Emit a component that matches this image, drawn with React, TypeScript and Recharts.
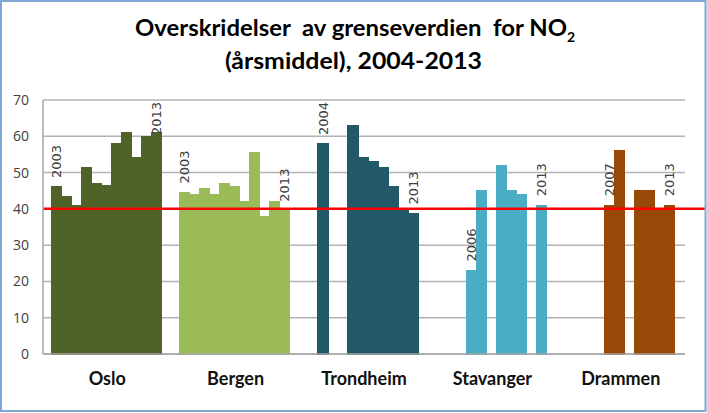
import React from 'react';
import { BarChart, Bar, XAxis, YAxis, CartesianGrid, ReferenceLine, Cell, LabelList } from 'recharts';

const cities = ['Oslo', 'Bergen', 'Trondheim', 'Stavanger', 'Drammen'];
const years = [2003, 2004, 2005, 2006, 2007, 2008, 2009, 2010, 2011, 2012, 2013];

const oslo = [46, 43.5, 41, 51.5, 47, 46.5, 58, 61, 54, 60, 61];
const bergen = [44.5, 44, 45.5, 44, 47, 46, 42, 55.5, 38, 42, 39.5];
const trondheim = [null, 58, null, null, 63, 54, 53, 51.5, 46, 40, 38.7];
const stavanger = [null, null, null, 23, 45, null, 52, 45, 44, null, 41];
const drammen = [null, null, null, null, 41, 56, null, 45, 45, 39.5, 41];

const cityValues = [oslo, bergen, trondheim, stavanger, drammen];
const cityColors = ['#4F6228', '#9BBB59', '#215968', '#4BACC6', '#984807'];

const labelYears = [
  [2003, 2013],
  [2003, 2013],
  [2004, 2013],
  [2006, 2013],
  [2007, 2013],
];

const yTicks = [0, 10, 20, 30, 40, 50, 60, 70];
const limitValue = 40;

const titleLine1 = 'Overskridelser  av grenseverdien  for NO';
const titleSub = '2';
const titleLine2 = '(årsmiddel), 2004-2013';

const data = cities.map((city, ci) => {
  const row: Record<string, any> = { city };
  years.forEach((yr, yi) => {
    row['y' + yr] = cityValues[ci][yi];
    row['l' + yr] = labelYears[ci].includes(yr) ? String(yr) : null;
  });
  return row;
});

const W = 707;
const H = 413;
const PLOT_TOP = 100;

const yearLabel = (props: any) => {
  const vb = props.viewBox || {};
  const x = props.x ?? vb.x;
  const y = props.y ?? vb.y;
  const width = props.width ?? vb.width;
  const { value } = props;
  if (value == null || value === '' || x == null) return null;
  const cx = x + width / 2;
  const start = Math.max(y - 9, PLOT_TOP + 35);
  return (
    <text
      x={cx}
      y={start}
      transform={`rotate(-90 ${cx} ${start})`}
      dy="0.36em"
      textAnchor="start"
      fontFamily="DejaVu Sans"
      fontSize={13}
      fill="#404040"
    >
      {value}
    </text>
  );
};

const redLine = (p: any) => (
  <line x1={p.x1} y1={p.y1} x2={p.x2 + 20} y2={p.y2} stroke="#FF0000" strokeWidth={2.5} />
);

export default function App() {
  return (
    <div style={{ position: 'absolute', left: 0, top: 0, width: W, height: H, background: '#fff' }}>
      <BarChart
        width={W}
        height={H}
        data={data}
        margin={{ top: PLOT_TOP, right: 22, bottom: 29, left: 0 }}
        barCategoryGap="6.4%"
        barGap={0}
      >
        <CartesianGrid vertical={false} stroke="#B3B3B3" strokeWidth={1.5} />
        <XAxis
          dataKey="city"
          tickLine={false}
          axisLine={{ stroke: '#A6A6A6', strokeWidth: 1.5 }}
          tickMargin={12}
          height={30}
          tick={{ fontFamily: 'Lato', fontWeight: 'bold', fontSize: 18, fill: '#111' }}
        />
        <YAxis
          width={43}
          domain={[0, 70]}
          ticks={yTicks}
          interval={0}
          tickLine={false}
          axisLine={{ stroke: '#A6A6A6', strokeWidth: 1.5 }}
          tickMargin={8}
          tick={{ fontFamily: 'Open Sans', fontSize: 14, fill: '#404040' }}
        />
        {years.map((yr) => (
          <Bar key={yr} dataKey={'y' + yr} isAnimationActive={false}>
            {data.map((_, ci) => (
              <Cell
                key={ci}
                fill={cityColors[ci]}
                stroke={cityColors[ci]}
                strokeWidth={1.2}
                shapeRendering="crispEdges"
              />
            ))}
            <LabelList dataKey={'l' + yr} content={yearLabel} />
          </Bar>
        ))}
        <ReferenceLine y={limitValue} shape={redLine} />
      </BarChart>
      <svg
        width={W}
        height={H}
        style={{ position: 'absolute', left: 0, top: 0, pointerEvents: 'none' }}
      >
        <rect x={1} y={1} width={704.5} height={410} fill="none" stroke="#7FA6D6" strokeWidth={2} />
        <text
          x={135}
          y={36}
          fontFamily="Lato"
          fontWeight="bold"
          fontSize={22}
          fill="#000"
          textLength={432}
          lengthAdjust="spacingAndGlyphs"
          style={{ whiteSpace: 'pre' }}
        >
          {titleLine1}
        </text>
        <text x={567} y={42} fontFamily="Lato" fontWeight="bold" fontSize={14} fill="#000">
          {titleSub}
        </text>
        <text
          x={225}
          y={69}
          fontFamily="Lato"
          fontWeight="bold"
          fontSize={22}
          fill="#000"
          textLength={257}
          lengthAdjust="spacingAndGlyphs"
        >
          {titleLine2}
        </text>
      </svg>
    </div>
  );
}
